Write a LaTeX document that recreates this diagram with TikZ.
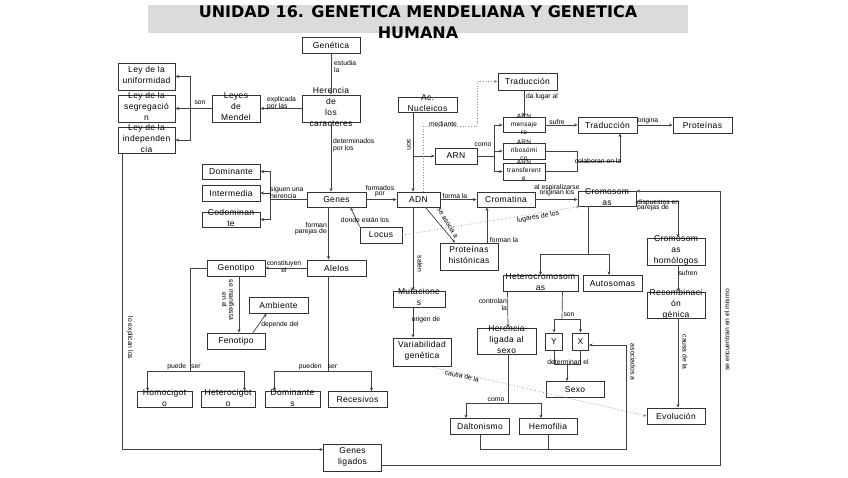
\documentclass[tikz,border=0pt]{standalone}
\usepackage{fontspec}
\setmainfont{Liberation Sans}
\newfontfamily\boxfont[LetterSpace=4]{Liberation Sans}
\newfontfamily\headfont{DejaVu Sans}
\usetikzlibrary{arrows.meta}
\newcommand{\bx}{\boxfont\fontsize{8.5}{11}\selectfont}
\newcommand{\bxs}{\boxfont\fontsize{6.5}{8}\selectfont}
\newcommand{\lb}{\fontsize{6.8}{7}\selectfont}
\newcommand{\ov}[1]{\raisebox{-2pt}{\smash{\begin{tabular}[c]{@{}c@{}}#1\end{tabular}}}}

\begin{document}
\begin{tikzpicture}[x=1pt,y=-1pt,
   box/.style={draw=black!80, line width=0.9pt, fill=white, minimum width=58pt,
     minimum height=16pt, inner sep=0pt, font=\bx},
   ln/.style={draw=black!75, line width=0.7pt},
   arr/.style={ln, -{Stealth[length=3.5pt,width=3pt]}},
   dot/.style={arr, draw=black!45, dotted},
   lbl/.style={font=\lb, inner sep=0pt, align=center}]
   \useasboundingbox (0,0) rectangle (848,477);
   \fill[white] (0,0) rectangle (848,477);
   % title
   \fill[black!14] (148,5) rectangle (688,33);
   \node[font=\headfont\bfseries\fontsize{16}{20}\selectfont, anchor=base, inner sep=0pt]
     (t1) at (418,17) {UNIDAD 16. GENETICA MENDELIANA Y GENETICA};
   \node[font=\headfont\bfseries\fontsize{16}{20}\selectfont, anchor=base, inner sep=0pt]
     (t2) at (418,38) {HUMANA};

   % boxes
   \node[box] (gen) at (331,45) {Genética};
   \node[box, minimum height=27pt] (her) at (331,108.5) {\ov{Herencia\\de\\los\\caracteres}};
   \node[box, minimum width=48pt, minimum height=27pt] (leyes) at (236,108.5) {\ov{Leyes\\de\\Mendel}};
   \node[box, minimum width=57pt, minimum height=27pt] (uni) at (146.5,76.5) {\ov{Ley de la\\uniformidad}};
   \node[box, minimum width=57pt, minimum height=27pt] (seg) at (146.5,108.5) {\ov{Ley de la\\segregació\\n}};
   \node[box, minimum width=57pt, minimum height=26pt] (ind) at (146.5,140) {\ov{Ley de la\\independen\\cia}};
   \node[box, minimum width=59pt, minimum height=15pt] (acn) at (427.5,104.5) {\ov{Ac.\\Nucleicos}};
   \node[box, minimum width=59pt, minimum height=17pt] (tr1) at (527.5,81.5) {Traducción};
   \node[box, minimum width=42pt, minimum height=15pt, font=\bxs] (arm) at (524,125) {\ov{ARN\\mensaje\\ro}};
   \node[box, minimum width=42pt] (arn) at (456,156) {ARN};
   \node[box, minimum width=42pt, font=\bxs] (arr) at (524,151) {\ov{ARN\\ribosómi\\co}};
   \node[box, minimum width=42pt, minimum height=17pt, font=\bxs] (art) at (524,171.5) {\ov{ARN\\transferent\\e}};
   \node[box, minimum width=59pt] (tr2) at (607.5,125) {Traducción};
   \node[box, minimum width=59pt] (pro) at (702.5,125) {Proteínas};
   \node[box, minimum height=15pt] (dom) at (231,171.5) {Dominante};
   \node[box] (int) at (231,193) {Intermedia};
   \node[box, minimum height=15pt] (cod) at (231,219.5) {\ov{Codominan\\te}};
   \node[box, minimum width=59pt, minimum height=15pt] (genes) at (336.5,199.5) {Genes};
   \node[box, minimum width=43pt, minimum height=15pt] (adn) at (418.5,199.5) {ADN};
   \node[box, minimum height=15pt] (crom) at (506,199.5) {Cromatina};
   \node[box, minimum height=15pt] (cro) at (607,198.5) {\ov{Cromosom\\as}};
   \node[box, minimum width=42pt] (loc) at (381,235) {Locus};
   \node[box, minimum height=27pt] (phi) at (469,256.5) {\ov{Proteínas\\histónicas}};
   \node[box] (gtp) at (236,268) {Genotipo};
   \node[box, minimum width=59pt] (ale) at (336.5,268) {Alelos};
   \node[box, minimum width=59pt] (amb) at (278.5,305) {Ambiente};
   \node[box] (fen) at (236,341) {Fenotipo};
   \node[box, minimum width=52pt] (mut) at (419,299) {\ov{Mutacione\\s}};
   \node[box, minimum height=28pt] (var) at (422,352) {\ov{Variabilidad\\genética}};
   \node[box, minimum width=75pt] (het) at (540.5,283.5) {\ov{Heterocromosom\\as}};
   \node[box, minimum width=59pt] (aut) at (612.5,283.5) {Autosomas};
   \node[box, minimum height=27pt] (hom) at (676,251.5) {\ov{Cromosom\\as\\homólogos}};
   \node[box, minimum height=26pt] (rec) at (676,305) {\ov{Recombinaci\\ón\\génica}};
   \node[box, minimum width=59pt, minimum height=26pt] (hls) at (506.5,341) {\ov{Herencia\\ligada al\\sexo}};
   \node[box, minimum width=17pt, minimum height=17pt] (ynode) at (554,341.5) {Y};
   \node[box, minimum width=16pt, minimum height=17pt] (xnode) at (580.5,341.5) {X};
   \node[box] (sexo) at (575,389.5) {Sexo};
   \node[box] (evo) at (676,416) {Evolución};
   \node[box, minimum width=55pt] (hoc) at (164.5,399.5) {\ov{Homocigot\\o}};
   \node[box, minimum width=54pt] (hec) at (228,399.5) {\ov{Heterocigot\\o}};
   \node[box, minimum width=55pt] (dms) at (292.5,399.5) {\ov{Dominante\\s}};
   \node[box, minimum width=59pt] (res) at (357.5,399.5) {Recesivos};
   \node[box, minimum width=59pt] (dal) at (480,426.5) {Daltonismo};
   \node[box] (hem) at (548,426.5) {Hemofilia};
   \node[box, minimum height=27pt] (gli) at (352.5,457.5) {\ov{Genes\\ligados}};

   % junctions
   \coordinate (jl) at (190,108.5);
   \coordinate (jg) at (270,199.5);
   \coordinate (jh) at (190,371);
   \coordinate (ja) at (328.5,371);
   \coordinate (jr) at (720,191);
   \coordinate (jn) at (413,156);
   \coordinate (jm) at (494,156);
   \coordinate (jc) at (577,161);
   \coordinate (jk) at (588,254);
   \coordinate (js) at (562,319);
   \coordinate (jd) at (567,364);
   \coordinate (jq) at (508,403);
   \coordinate (jx) at (626,449.5);

   % connectors
   \draw[arr] (gen) -- (her);
   \draw[arr] (her) -- (leyes);
   \draw[ln] (leyes) -- (jl);
   \draw[arr] (jl) |- (uni.east);
   \draw[arr] (jl) -- (seg);
   \draw[arr] (jl) |- (ind.east);
   \draw[arr] (her) -- (her |- genes.north);
   \draw[ln] (genes) -- (jg);
   \draw[arr] (jg) |- (dom.east);
   \draw[arr] (jg) |- (int.east);
   \draw[arr] (jg) |- (cod.east);
   \draw[arr] (genes) -- (adn);
   \draw[arr] (loc.north west) -- ([xshift=14pt]genes.south);
   \draw[arr] ([xshift=-8pt]genes.south) -- ([xshift=-8pt]ale.north);
   \draw[arr] (ale) -- (gtp);
   \draw[arr] ([xshift=3pt]gtp.south) -- ([xshift=3pt]fen.north);
   \draw[arr] ([xshift=17pt]fen.north) -- ([xshift=-12pt]amb.south);
   \draw[ln] (gtp.west) -| (jh);
   \draw[arr] (jh) -| ([xshift=11pt]hoc.north west);
   \draw[arr] (jh) -| ([xshift=-11pt]hec.north east);
   \draw[ln] ([xshift=-8pt]ale.south) -- (ja);
   \draw[arr] (ja) -| ([xshift=10pt]dms.north west);
   \draw[arr] (ja) -| ([xshift=-16pt]res.north east);
   \draw[arr] ([xshift=5pt]ind.south west) |- ([yshift=8pt]gli.west);
   \draw[arr] ([yshift=-8pt]gli.east) -| (jr) -- (jr -| cro.east);
   \draw[arr] ([xshift=-14.5pt]acn.south) -- ([xshift=-5.5pt]adn.north);
   \draw[arr] (jn) -- (arn);
   \draw[dot] ([xshift=4.5pt]adn.north) |- (477,126) |- (tr1.west);
   \draw[arr] ([xshift=-3.5pt]tr1.south) -- (arm.north);
   \draw[ln] (arn) -- (jm);
   \draw[arr] (jm) |- (arm.west);
   \draw[arr] (jm) |- (arr.west);
   \draw[arr] (jm) |- (art.west);
   \draw[arr] (arm) -- (tr2);
   \draw[ln] (arr.east) -| (jc);
   \draw[ln] (art.east) -| (jc);
   \draw[arr] (jc) -| ([xshift=12.5pt]tr2.south);
   \draw[arr] (tr2) -- (pro);
   \draw[arr] (adn) -- (crom);
   \draw[arr] ([xshift=7pt]adn.south) -- ([xshift=-14pt]phi.north);
   \draw[arr] ([xshift=18pt]phi.north) -- ([xshift=-19pt]crom.south);
   \draw[arr] (crom.east) -- (crom.east -| cro.west);
   \draw[dot] (loc.east) -- ([xshift=2pt]cro.south west);
   \draw[ln] ([xshift=-19pt]cro.south) -- (jk);
   \draw[arr] (jk) -| (het.north);
   \draw[arr] (jk) -| ([xshift=-3.5pt]aut.north);
   \draw[arr] ([yshift=-3pt]cro.east) -| ([xshift=2pt]hom.north);
   \draw[arr] ([xshift=2pt]hom.south) -- ([xshift=2pt]rec.north);
   \draw[arr] ([xshift=2pt]rec.south) -- ([xshift=2pt]evo.north);
   \draw[arr] ([xshift=5pt]het.south west) -- ([xshift=1.5pt]hls.north);
   \draw[ln] ([xshift=-16pt]het.south east) -- (js);
   \draw[arr] (js) -| (ynode.north);
   \draw[arr] (js) -| (xnode.north);
   \draw[ln] (ynode.south) |- (jd);
   \draw[ln] (xnode.south) |- (jd);
   \draw[arr] (jd) -- (jd |- sexo.north);
   \draw[ln] ([xshift=1.5pt]hls.south) -- (jq);
   \draw[arr] (jq) -| ([xshift=-14pt]dal.north);
   \draw[arr] (jq) -| ([xshift=-7pt]hem.north);
   \draw[ln] (dal.south) |- (jx);
   \draw[ln] (hem.south) -- (hem.south |- jx);
   \draw[arr] (jx) |- ([yshift=-3.5pt]xnode.east);
   \draw[dot] ([xshift=8pt]var.south) -- (evo.west);
   \draw[arr] ([xshift=-5.5pt]adn.south) -- ([xshift=-6pt]mut.north);
   \draw[arr] ([xshift=-6pt]mut.south) -- ([xshift=-9pt]var.north);

   % labels
   \node[lbl, anchor=north west, align=left] (l1) at (334,60) {estudia\\la};
   \node[lbl, anchor=north west, align=left] (l2) at (267,96) {explicada\\por las};
   \node[lbl] (l3) at (200,103) {son};
   \node[lbl, anchor=north west, align=left] (l4) at (333,138) {determinados\\por los};
   \node[lbl, anchor=north west, align=left] (l5) at (270,186) {siguen una\\herencia};
   \node[lbl] (l6) at (380,191) {formados\\[-2pt]por};
   \node[lbl] (l7) at (365,220) {donde están los};
   \node[lbl, anchor=north east, align=right] (l8) at (327,222) {forman\\[-1pt]parejas de};
   \node[lbl] (l9) at (284,267) {constituyen\\el};
   \node[lbl, rotate=-90] (l10) at (228,300) {se manifiesta\\en el};
   \node[lbl] (l11) at (280,325) {depende del};
   \node[lbl] (l12) at (184,367) {puede\hspace{5pt}ser};
   \node[lbl] (l13) at (318,367) {pueden\hspace{6pt}ser};
   \node[lbl, rotate=-90] (l14) at (130,338) {lo explican los};
   \node[lbl, rotate=-90] (l15) at (409,145) {son};
   \node[lbl] (l16) at (443,124) {mediante};
   \node[lbl] (l17) at (542,97) {da lugar al};
   \node[lbl] (l18) at (483,145) {como};
   \node[lbl] (l19) at (557,122) {sufre};
   \node[lbl] (l20) at (648,121) {origina};
   \node[lbl] (l21) at (598,161) {colaboran en la};
   \node[lbl] (l22) at (455,196) {forma la};
   \node[lbl, rotate=-59] (l23) at (448,223) {se asocia a};
   \node[lbl] (l24) at (504,240) {forman la};
   \node[lbl] (l25) at (557,190) {al espiralizarse\\[-2pt]originan los};
   \node[lbl, rotate=10] (l26) at (538,217) {lugares de los};
   \node[lbl, anchor=north west, align=left] (l27) at (637,199) {dispuestos en\\[-2pt]parejas de};
   \node[lbl] (l28) at (688,273) {sufren};
   \node[lbl, rotate=-90] (l29) at (685,352) {causa de la};
   \node[lbl, rotate=90] (l30) at (727,330) {se encuentran en el mismo};
   \node[lbl, rotate=-90] (l31) at (633,362) {asociados a};
   \node[lbl, anchor=north east, align=right] (l32) at (507,298) {controlan\\la};
   \node[lbl] (l33) at (569,315) {son};
   \node[lbl] (l34) at (568,362) {determinan el};
   \node[lbl] (l35) at (496,400) {como};
   \node[lbl, rotate=-13] (l36) at (462,376) {causa de la};
   \node[lbl] (l37) at (426,320) {origen de};
   \node[lbl, rotate=-90] (l38) at (420,264) {salen};
\end{tikzpicture}
\end{document}
